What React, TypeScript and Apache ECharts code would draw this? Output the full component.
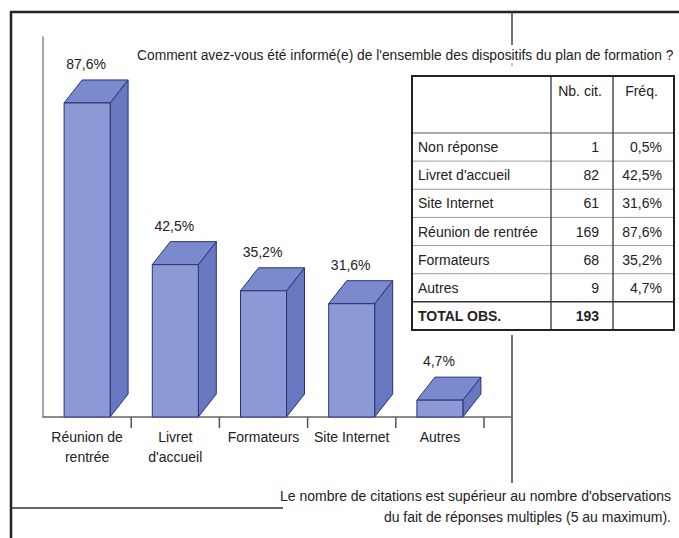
import React, { useEffect, useRef } from "react";
import * as echarts from "echarts";

const categories = ["Réunion de\nrentrée", "Livret\nd'accueil", "Formateurs", "Site Internet", "Autres"];
const barValues = [87.6, 42.5, 35.2, 31.6, 4.7];

const tableHeaders = ["", "Nb. cit.", "Fréq."];
const tableLabels = ["Non réponse", "Livret d'accueil", "Site Internet", "Réunion de rentrée", "Formateurs", "Autres"];
const tableCounts = [1, 82, 61, 169, 68, 9];
const tableFreqs = ["0,5%", "42,5%", "31,6%", "87,6%", "35,2%", "4,7%"];
const totalLabel = "TOTAL OBS.";
const totalCount = 193;

const titleText = "Comment avez-vous été informé(e) de l'ensemble des dispositifs du plan de formation ?";
const noteLines = [
  "Le nombre de citations est supérieur au nombre d'observations",
  "du fait de réponses multiples (5 au maximum).",
];

const FONT = '"Liberation Sans", Arial, sans-serif';
const TXT = "#222";

function fmt(v: number) {
  return v.toFixed(1).replace(".", ",") + "%";
}

export default function App() {
  const ref = useRef<HTMLDivElement>(null);
  useEffect(() => {
    document.body.style.margin = "0";
    const chart = echarts.init(ref.current!, null, { renderer: "svg" });

    // table graphics
    const tL = 412, tR = 674, tT = 76, tB = 330, c1 = 551, c2 = 613, hB = 133;
    const nRows = tableLabels.length + 1;
    const rh = (tB - hB) / nRows;
    const g: any[] = [];
    g.push({ type: "rect", shape: { x: tL, y: tT, width: tR - tL, height: tB - tT }, style: { fill: "#fff", stroke: "none" }, z: 1 });
    for (let r = 1; r < nRows; r++) {
      const y = hB + r * rh;
      const last = r === nRows - 1;
      g.push({ type: "line", shape: { x1: tL, y1: y, x2: tR, y2: y }, style: { stroke: last ? "#333" : "#9a9a9a", lineWidth: last ? 1.5 : 1 }, z: 2 });
    }
    g.push({ type: "line", shape: { x1: tL, y1: hB, x2: tR, y2: hB }, style: { stroke: "#555", lineWidth: 1.2 }, z: 2 });
    g.push({ type: "line", shape: { x1: c1, y1: tT, x2: c1, y2: tB }, style: { stroke: "#333", lineWidth: 1.3 }, z: 3 });
    g.push({ type: "line", shape: { x1: c2, y1: tT, x2: c2, y2: tB }, style: { stroke: "#333", lineWidth: 1.3 }, z: 3 });
    g.push({ type: "rect", shape: { x: tL, y: tT, width: tR - tL, height: tB - tT }, style: { fill: "none", stroke: "#222", lineWidth: 2 }, z: 4 });
    g.push({ type: "text", x: (c1 + c2) / 2 - 2, y: 91, style: { text: tableHeaders[1], align: "center", verticalAlign: "middle", fontSize: 14, fontFamily: FONT, fill: TXT }, z: 5 });
    g.push({ type: "text", x: (c2 + tR) / 2 - 2, y: 91, style: { text: tableHeaders[2], align: "center", verticalAlign: "middle", fontSize: 14, fontFamily: FONT, fill: TXT }, z: 5 });
    tableLabels.forEach((lab, i) => {
      const y = hB + (i + 0.5) * rh;
      g.push({ type: "text", x: tL + 6, y, style: { text: lab, align: "left", verticalAlign: "middle", fontSize: 14, fontFamily: FONT, fill: TXT }, z: 5 });
      g.push({ type: "text", x: c2 - 14, y, style: { text: String(tableCounts[i]), align: "right", verticalAlign: "middle", fontSize: 14, fontFamily: FONT, fill: TXT }, z: 5 });
      g.push({ type: "text", x: tR - 12, y, style: { text: tableFreqs[i], align: "right", verticalAlign: "middle", fontSize: 14, fontFamily: FONT, fill: TXT }, z: 5 });
    });
    {
      const y = hB + (nRows - 0.5) * rh;
      g.push({ type: "text", x: tL + 6, y, style: { text: totalLabel, align: "left", verticalAlign: "middle", fontSize: 14, fontWeight: "bold", fontFamily: FONT, fill: TXT }, z: 5 });
      g.push({ type: "text", x: c2 - 14, y, style: { text: String(totalCount), align: "right", verticalAlign: "middle", fontSize: 14, fontWeight: "bold", fontFamily: FONT, fill: TXT }, z: 5 });
    }

    // frame & decorations
    g.push({ type: "line", shape: { x1: 10, y1: 12, x2: 679, y2: 12 }, style: { stroke: "#222", lineWidth: 2.5 }, z: 6 });
    g.push({ type: "line", shape: { x1: 11, y1: 11, x2: 11, y2: 538 }, style: { stroke: "#222", lineWidth: 2.5 }, z: 6 });
    g.push({ type: "line", shape: { x1: 512, y1: 12, x2: 512, y2: 45 }, style: { stroke: "#444", lineWidth: 1.5 }, z: 6 });
    g.push({ type: "line", shape: { x1: 512, y1: 63, x2: 512, y2: 66 }, style: { stroke: "#888", lineWidth: 1 }, z: 6 });
    g.push({ type: "line", shape: { x1: 512, y1: 335, x2: 512, y2: 483 }, style: { stroke: "#444", lineWidth: 1.5 }, z: 6 });
    g.push({ type: "line", shape: { x1: 484, y1: 417, x2: 512, y2: 417 }, style: { stroke: "#666", lineWidth: 1.5 }, z: 6 });
    g.push({ type: "line", shape: { x1: 12, y1: 508, x2: 283, y2: 508 }, style: { stroke: "#666", lineWidth: 2 }, z: 6 });
    g.push({ type: "text", x: 137, y: 55, style: { text: titleText, align: "left", verticalAlign: "middle", fontSize: 13.8, fontFamily: FONT, fill: TXT }, z: 6 });
    g.push({ type: "text", x: 671, y: 496, style: { text: noteLines[0], align: "right", verticalAlign: "middle", fontSize: 14, fontFamily: FONT, fill: TXT }, z: 6 });
    g.push({ type: "text", x: 671, y: 517, style: { text: noteLines[1], align: "right", verticalAlign: "middle", fontSize: 14, fontFamily: FONT, fill: TXT }, z: 6 });

    const W = 46, DX = 18, DY = 23;
    const stroke = "#28327a";

    chart.setOption({
      animation: false,
      backgroundColor: "#fff",
      grid: { left: 43, top: 37, width: 441, height: 380 },
      xAxis: {
        type: "category",
        data: categories,
        axisLine: { lineStyle: { color: "#666", width: 1.5 } },
        axisTick: { show: false },
        axisLabel: { margin: 10, fontSize: 14, lineHeight: 20, fontFamily: FONT, color: TXT, interval: 0 },
      },
      yAxis: {
        type: "value",
        min: 0,
        max: 106,
        axisLine: { show: true, lineStyle: { color: "#888", width: 1.5 } },
        axisTick: { show: false },
        axisLabel: { show: false },
        splitLine: { show: false },
      },
      series: [
        {
          type: "custom",
          clip: false,
          encode: { x: 0, y: 1 },
          data: barValues.map((v, i) => [i, v]),
          renderItem: (params: any, api: any) => {
            const i = api.value(0);
            const v = api.value(1);
            const top = api.coord([i, v]);
            const base = api.coord([i, 0]);
            const band = api.size([1, 0])[0];
            const x0 = top[0] - W / 2, x1 = top[0] + W / 2;
            const yT = top[1], yB = base[1];
            return {
              type: "group",
              children: [
                {
                  type: "polygon",
                  shape: { points: [[x1, yB], [x1, yT], [x1 + DX, yT - DY], [x1 + DX, yB - DY]] },
                  style: { fill: "#6878c0", stroke, lineWidth: 1 },
                },
                {
                  type: "polygon",
                  shape: { points: [[x0, yT], [x1, yT], [x1 + DX, yT - DY], [x0 + DX, yT - DY]] },
                  style: { fill: "#7a8acd", stroke, lineWidth: 1 },
                },
                {
                  type: "rect",
                  shape: { x: x0, y: yT, width: W, height: yB - yT },
                  style: { fill: "#8b9ad5", stroke, lineWidth: 1 },
                },
                {
                  type: "line",
                  shape: { x1: base[0] + band / 2, y1: yB, x2: base[0] + band / 2, y2: yB + 11 },
                  style: { stroke: "#555", lineWidth: 1.5 },
                },
                {
                  type: "text",
                  x: top[0] - 1,
                  y: yT - DY - 16,
                  style: { text: fmt(v), align: "center", verticalAlign: "middle", fontSize: 14, fontFamily: FONT, fill: TXT },
                },
              ],
            };
          },
        },
      ],
      graphic: g,
    });
    return () => chart.dispose();
  }, []);
  return <div ref={ref} style={{ position: "fixed", left: 0, top: 0, width: 679, height: 538 }} />;
}
